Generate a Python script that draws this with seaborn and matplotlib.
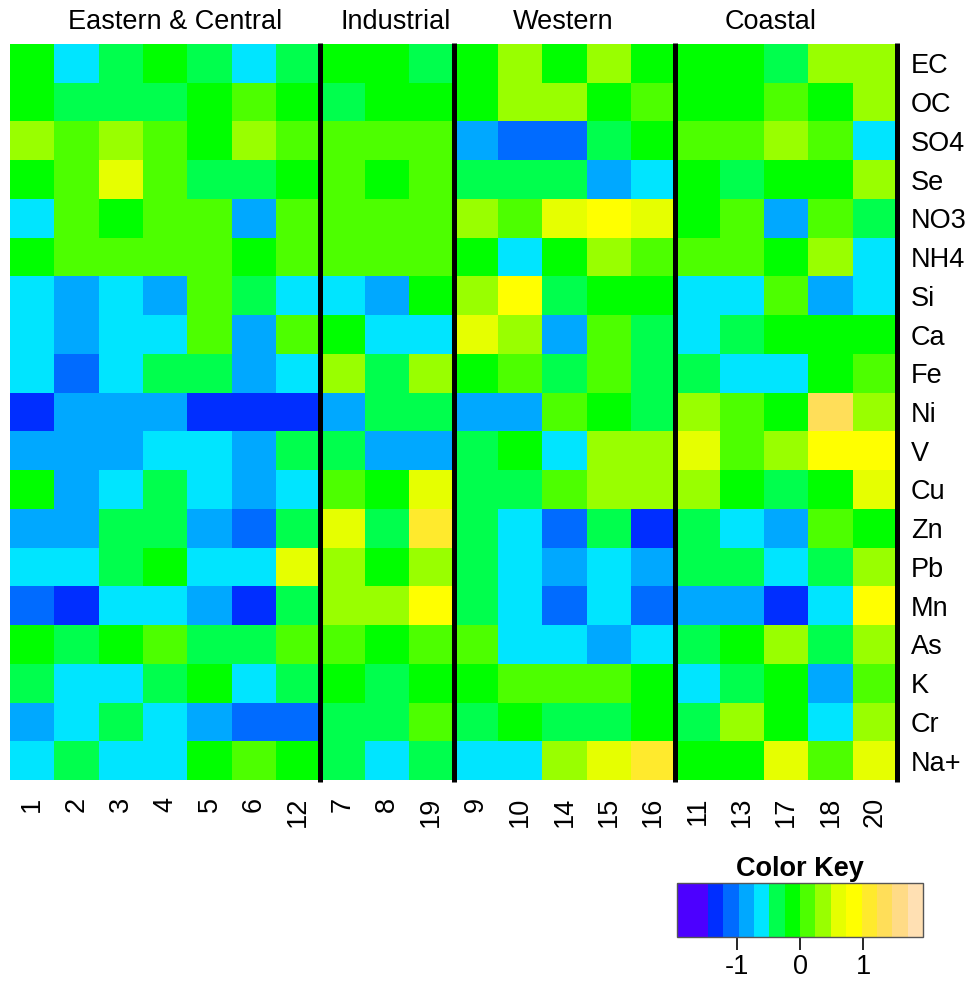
import numpy as np
import pandas as pd
import matplotlib.pyplot as plt
import seaborn as sns
from matplotlib.colors import ListedColormap, BoundaryNorm

plt.switch_backend("Agg")

# site order (columns) and species (rows)
sites = ["1", "2", "3", "4", "5", "6", "12", "7", "8", "19",
         "9", "10", "14", "15", "16", "11", "13", "17", "18", "20"]
species = ["EC", "OC", "SO4", "Se", "NO3", "NH4", "Si", "Ca", "Fe", "Ni",
           "V", "Cu", "Zn", "Pb", "Mn", "As", "K", "Cr", "Na+"]
groups = ["Eastern & Central", "Industrial", "Western", "Coastal"]
group_label_x = [3.72, 8.7, 12.47, 17.16]
group_breaks = [7, 10, 15, 20]

# scaled values (one list per species)
EC = [-0.1, -0.6, -0.35, -0.1, -0.35, -0.6, -0.35, -0.1, -0.1, -0.35, -0.1, 0.35, -0.1, 0.35, -0.1, -0.1, -0.1, -0.35, 0.35, 0.35]
OC = [-0.1, -0.35, -0.35, -0.35, -0.1, 0.1, -0.1, -0.35, -0.1, -0.1, -0.1, 0.35, 0.35, -0.1, 0.1, -0.1, -0.1, 0.1, -0.1, 0.35]
SO4 = [0.35, 0.1, 0.35, 0.1, -0.1, 0.35, 0.1, 0.1, 0.1, 0.1, -0.85, -1.1, -1.1, -0.35, -0.1, 0.1, 0.1, 0.35, 0.1, -0.6]
Se = [-0.1, 0.1, 0.6, 0.1, -0.35, -0.35, -0.1, 0.1, -0.1, 0.1, -0.35, -0.35, -0.35, -0.85, -0.6, -0.1, -0.35, -0.1, -0.1, 0.35]
NO3 = [-0.6, 0.1, -0.1, 0.1, 0.1, -0.85, 0.1, 0.1, 0.1, 0.1, 0.35, 0.1, 0.6, 0.85, 0.6, -0.1, 0.1, -0.85, 0.1, -0.35]
NH4 = [-0.1, 0.1, 0.1, 0.1, 0.1, -0.1, 0.1, 0.1, 0.1, 0.1, -0.1, -0.6, -0.1, 0.35, 0.1, 0.1, 0.1, -0.1, 0.35, -0.6]
Si = [-0.6, -0.85, -0.6, -0.85, 0.1, -0.35, -0.6, -0.6, -0.85, -0.1, 0.35, 0.85, -0.35, -0.1, -0.1, -0.6, -0.6, 0.1, -0.85, -0.6]
Ca = [-0.6, -0.85, -0.6, -0.6, 0.1, -0.85, 0.1, -0.1, -0.6, -0.6, 0.6, 0.35, -0.85, 0.1, -0.35, -0.6, -0.35, -0.1, -0.1, -0.1]
Fe = [-0.6, -1.1, -0.6, -0.35, -0.35, -0.85, -0.6, 0.35, -0.35, 0.35, -0.1, 0.1, -0.35, 0.1, -0.35, -0.35, -0.6, -0.6, -0.1, 0.1]
Ni = [-1.35, -0.85, -0.85, -0.85, -1.35, -1.35, -1.35, -0.85, -0.35, -0.35, -0.85, -0.85, 0.1, -0.1, -0.35, 0.35, 0.1, -0.1, 1.35, 0.35]
V = [-0.85, -0.85, -0.85, -0.6, -0.6, -0.85, -0.35, -0.35, -0.85, -0.85, -0.35, -0.1, -0.6, 0.35, 0.35, 0.6, 0.1, 0.35, 0.85, 0.85]
Cu = [-0.1, -0.85, -0.6, -0.35, -0.6, -0.85, -0.6, 0.1, -0.1, 0.6, -0.35, -0.35, 0.1, 0.35, 0.35, 0.35, -0.1, -0.35, -0.1, 0.6]
Zn = [-0.85, -0.85, -0.35, -0.35, -0.85, -1.1, -0.35, 0.6, -0.35, 1.1, -0.35, -0.6, -1.1, -0.35, -1.35, -0.35, -0.6, -0.85, 0.1, -0.1]
Pb = [-0.6, -0.6, -0.35, -0.1, -0.6, -0.6, 0.6, 0.35, -0.1, 0.35, -0.35, -0.6, -0.85, -0.6, -0.85, -0.35, -0.35, -0.6, -0.35, 0.35]
Mn = [-1.1, -1.35, -0.6, -0.6, -0.85, -1.35, -0.35, 0.35, 0.35, 0.85, -0.35, -0.6, -1.1, -0.6, -1.1, -0.85, -0.85, -1.35, -0.6, 0.85]
As = [-0.1, -0.35, -0.1, 0.1, -0.35, -0.35, 0.1, 0.1, -0.1, 0.1, 0.1, -0.6, -0.6, -0.85, -0.6, -0.35, -0.1, 0.35, -0.35, 0.35]
K = [-0.35, -0.6, -0.6, -0.35, -0.1, -0.6, -0.35, -0.1, -0.35, -0.1, -0.1, 0.1, 0.1, 0.1, -0.1, -0.6, -0.35, -0.1, -0.85, 0.1]
Cr = [-0.85, -0.6, -0.35, -0.6, -0.85, -1.1, -1.1, -0.35, -0.35, 0.1, -0.35, -0.1, -0.35, -0.35, -0.1, -0.35, 0.35, -0.1, -0.6, 0.35]
Na = [-0.6, -0.35, -0.6, -0.6, -0.1, 0.1, -0.1, -0.35, -0.6, -0.35, -0.6, -0.6, 0.35, 0.6, 1.1, -0.1, -0.1, 0.6, 0.1, 0.6]

values = [EC, OC, SO4, Se, NO3, NH4, Si, Ca, Fe, Ni, V, Cu, Zn, Pb, Mn, As, K, Cr, Na]
df = pd.DataFrame(values, index=species, columns=sites)

# topo-like palette, 16 equal bins (first bin doubled in purple)
key_colors = ["#4C00FF", "#4C00FF", "#002EFF", "#006BFF", "#00A8FF", "#00E5FF",
              "#00FF4D", "#00FF00", "#4DFF00", "#99FF00", "#E6FF00", "#FFFF00",
              "#FFEA2D", "#FFDE59", "#FFDB86", "#FFE0B3"]
edges = np.linspace(-1.94, 1.94, len(key_colors) + 1)
cmap = ListedColormap(key_colors)
norm = BoundaryNorm(edges, cmap.N)

sns.set_style("white")
plt.rcParams["font.family"] = ["Liberation Sans", "DejaVu Sans"]
plt.rcParams["axes.unicode_minus"] = False
plt.rcParams["text.color"] = "black"
plt.rcParams["xtick.color"] = "black"
plt.rcParams["ytick.color"] = "black"
plt.rcParams["axes.labelcolor"] = "black"

FS = 19.5

W, H = 971, 984
fig = plt.figure(figsize=(W / 100, H / 100), dpi=100)
ax = fig.add_axes([10 / W, 1 - 780 / H, 887 / W, 736 / H])

sns.heatmap(df, cmap=cmap, norm=norm, cbar=False, ax=ax,
            xticklabels=True, yticklabels=True)

ax.yaxis.tick_right()
ax.tick_params(axis="both", length=0, labelsize=FS, labelcolor="black")
ax.tick_params(axis="x", pad=12)
ax.tick_params(axis="y", pad=10)
plt.setp(ax.get_xticklabels(), rotation=90, va="top")
plt.setp(ax.get_yticklabels(), rotation=0, ha="left")

for b in group_breaks:
    ax.plot([b, b], [-0.02, len(species) + 0.06], color="black", lw=3.6,
            solid_capstyle="butt", clip_on=False)

for name, gx in zip(groups, group_label_x):
    ax.text(gx, -0.57, name, ha="center", va="center", fontsize=FS, color="black")

# color key
cax = fig.add_axes([677 / W, 1 - 937 / H, 246 / W, 54 / H])
cb = fig.colorbar(ax.collections[0], cax=cax, orientation="horizontal")
cb.set_ticks([-1, 0, 1])
cb.minorticks_off()
cb.outline.set_edgecolor("#555555")
cb.outline.set_linewidth(1)
cax.tick_params(axis="x", which="major", length=9, width=1.2, labelsize=FS,
                pad=3, color="black", labelcolor="black")
cax.tick_params(axis="x", which="minor", length=0)
cax.set_title("Color Key", fontsize=FS, fontweight="bold", pad=5, color="black")

fig.savefig("out.png", dpi=100)
plt.close()
